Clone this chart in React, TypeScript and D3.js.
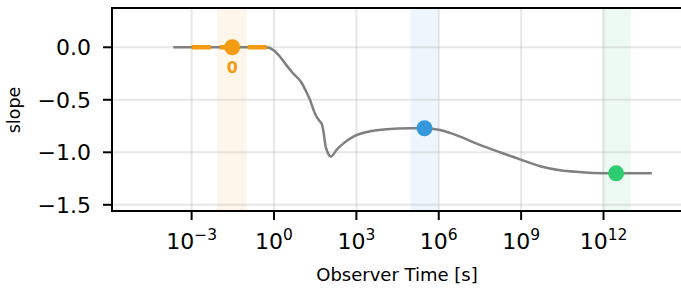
import React, { useEffect, useRef } from 'react'
import * as d3 from 'd3'

// slope curve (log10 of observer time, slope)
const curveLogT = [
  -3.67, -2.5, -1.5, -0.6, -0.3, 0.0, 0.22, 0.45, 0.7, 1.01, 1.15, 1.31, 1.49, 1.65, 1.74, 1.8, 1.87, 1.95, 2.07, 2.3,
  2.53, 2.89, 3.5, 4.1, 4.95, 5.48, 6.05, 6.4, 6.78, 7.5, 8.23, 8.96, 9.69, 10.42, 11.15, 11.63, 12.46, 13.76,
]
const curveSlope = [
  0, 0, 0, 0, 0, -0.03, -0.09, -0.17, -0.25, -0.34, -0.41, -0.5, -0.63, -0.7, -0.73, -0.8, -0.93, -1.0, -1.04, -0.97,
  -0.915, -0.85, -0.8, -0.78, -0.771, -0.771, -0.788, -0.815, -0.851, -0.93, -1.0, -1.067, -1.133, -1.171, -1.188,
  -1.196, -1.2, -1.2,
]

// marked phases
const phaseLogT = [-1.52, 5.48, 12.46]
const phaseSlope = [0, -0.771, -1.2]
const phaseColors = ['#f39c12', '#3498db', '#2ecc71']
const bandLo = [-2.07, 4.97, 11.96]
const bandHi = [-0.99, 5.99, 12.99]

// fitted segment around phase 0
const segLogT = [-3.0, -0.25]
const segSlope = [0, 0]
const segLabel = '0'

const xTicks = [-3, 0, 3, 6, 9, 12]
const yTicks = [0, -0.5, -1.0, -1.5]

const W = 681
const H = 290
const margin = { top: 8, left: 112, bottom: 211, right: 690 }

const App = () => {
  const ref = useRef(null)

  useEffect(() => {
    const root = d3.select(ref.current)
    root.selectAll('*').remove()

    const x = d3
      .scaleLog()
      .domain([Math.pow(10, -5.9), Math.pow(10, 15.15)])
      .range([margin.left, margin.right])
    const y = d3.scaleLinear().domain([-1.559, 0.374]).range([margin.bottom, margin.top])

    const svg = root.append('g')
    const font = 'DejaVu Sans, sans-serif'

    // shaded phase bands
    svg
      .selectAll('rect.band')
      .data(phaseColors)
      .enter()
      .append('rect')
      .attr('x', (d, i) => x(Math.pow(10, bandLo[i])))
      .attr('width', (d, i) => x(Math.pow(10, bandHi[i])) - x(Math.pow(10, bandLo[i])))
      .attr('y', margin.top)
      .attr('height', margin.bottom - margin.top)
      .attr('fill', d => d)
      .attr('fill-opacity', 0.09)

    // grid
    svg
      .selectAll('line.gx')
      .data(xTicks)
      .enter()
      .append('line')
      .attr('x1', d => x(Math.pow(10, d)))
      .attr('x2', d => x(Math.pow(10, d)))
      .attr('y1', margin.top)
      .attr('y2', margin.bottom)
      .attr('stroke', '#b0b0b0')
      .attr('stroke-opacity', 0.3)
      .attr('stroke-width', 2)
    svg
      .selectAll('line.gy')
      .data(yTicks)
      .enter()
      .append('line')
      .attr('x1', margin.left)
      .attr('x2', margin.right)
      .attr('y1', d => y(d))
      .attr('y2', d => y(d))
      .attr('stroke', '#b0b0b0')
      .attr('stroke-opacity', 0.3)
      .attr('stroke-width', 2)

    // curve
    const pts = curveLogT.map((t, i) => [Math.pow(10, t), curveSlope[i]])
    const line = d3
      .line()
      .x(d => x(d[0]))
      .y(d => y(d[1]))
      .curve(d3.curveMonotoneX)
    svg
      .append('path')
      .attr('d', line(pts))
      .attr('fill', 'none')
      .attr('stroke', '#808080')
      .attr('stroke-width', 2.5)

    // fitted segment
    svg
      .append('line')
      .attr('x1', x(Math.pow(10, segLogT[0])))
      .attr('x2', x(Math.pow(10, segLogT[1])))
      .attr('y1', y(segSlope[0]))
      .attr('y2', y(segSlope[1]))
      .attr('stroke', phaseColors[0])
      .attr('stroke-width', 4.5)
      .attr('stroke-dasharray', '19.3 8.7')

    // phase points
    svg
      .selectAll('circle.pt')
      .data(phaseLogT)
      .enter()
      .append('circle')
      .attr('cx', d => x(Math.pow(10, d)))
      .attr('cy', (d, i) => y(phaseSlope[i]))
      .attr('r', 8)
      .attr('fill', (d, i) => phaseColors[i])

    svg
      .append('text')
      .text(segLabel)
      .attr('x', x(Math.pow(10, phaseLogT[0])))
      .attr('y', y(phaseSlope[0]) + 26)
      .attr('text-anchor', 'middle')
      .attr('font-family', font)
      .attr('font-weight', 'bold')
      .attr('font-size', '16px')
      .attr('fill', phaseColors[0])

    // spines
    svg
      .append('path')
      .attr('d', `M${W + 5},${margin.top}H${margin.left}V${margin.bottom}H${W + 5}`)
      .attr('fill', 'none')
      .attr('stroke', '#000')
      .attr('stroke-width', 2)

    // x ticks
    const xt = svg
      .selectAll('g.xt')
      .data(xTicks)
      .enter()
      .append('g')
      .attr('transform', d => `translate(${x(Math.pow(10, d))},${margin.bottom})`)
    xt.append('line').attr('y1', 0).attr('y2', 9).attr('stroke', '#000').attr('stroke-width', 2)
    const xl = xt
      .append('text')
      .attr('y', 38)
      .attr('text-anchor', 'middle')
      .attr('font-family', font)
      .attr('font-size', '22px')
      .attr('fill', '#000')
    xl.append('tspan').text('10')
    xl.append('tspan')
      .text(d => (d < 0 ? '\u2212' + Math.abs(d) : String(d)))
      .attr('font-size', '15.5px')
      .attr('dy', -9.5)

    // y ticks
    const yt = svg
      .selectAll('g.yt')
      .data(yTicks)
      .enter()
      .append('g')
      .attr('transform', d => `translate(${margin.left},${y(d)})`)
    yt.append('line').attr('x1', 0).attr('x2', -9).attr('stroke', '#000').attr('stroke-width', 2)
    yt.append('text')
      .text(d => d3.format('.1f')(d).replace('-', '\u2212'))
      .attr('x', -21)
      .attr('dy', '0.36em')
      .attr('text-anchor', 'end')
      .attr('font-family', font)
      .attr('font-size', '22px')
      .attr('fill', '#000')

    // axis labels
    svg
      .append('text')
      .text('Observer Time [s]')
      .attr('x', 397)
      .attr('y', 281)
      .attr('text-anchor', 'middle')
      .attr('font-family', font)
      .attr('font-size', '18px')
    svg
      .append('text')
      .text('slope')
      .attr('transform', 'rotate(-90)')
      .attr('x', -110)
      .attr('y', 20)
      .attr('text-anchor', 'middle')
      .attr('font-family', font)
      .attr('font-size', '17.5px')
  }, [])

  return (
    <svg
      ref={ref}
      width={W}
      height={H}
      style={{ position: 'absolute', left: 0, top: 0, background: '#fff' }}
    />
  )
}

export default App
